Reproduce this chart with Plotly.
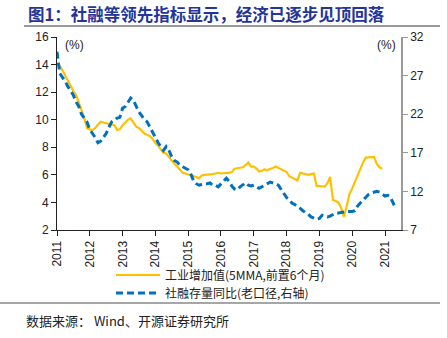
import plotly.graph_objects as go

months_y = [f"{y}-{m:02d}-01" for y in range(2011, 2021) for m in range(1, 13)]
ind_va = [
    14.0, 13.9, 13.6, 13.2, 12.9, 12.5, 12.1, 11.8, 11.3, 10.7, 10.1, 9.4,
    9.3, 9.25, 9.4, 9.6, 9.85, 9.8, 9.75, 9.75, 9.7, 9.6, 9.25, 9.3,
    9.6, 9.8, 10.0, 10.1, 9.8, 9.5, 9.4, 9.2, 9.0, 8.9, 8.8, 8.6,
    8.3, 8.1, 7.9, 7.6, 7.55, 7.3, 7.0, 6.8, 6.6, 6.4, 6.15, 6.1,
    6.05, 6.0, 5.95, 5.85, 5.75, 5.95, 6.0, 6.0, 6.05, 6.05, 6.1, 6.15,
    6.1, 6.15, 6.15, 6.15, 6.2, 6.45, 6.5, 6.5, 6.55, 6.7, 6.9, 6.6,
    6.6, 6.45, 6.25, 6.3, 6.4, 6.35, 6.4, 6.5, 6.6, 6.5, 6.4, 6.35,
    6.2, 5.9, 5.8, 5.7, 5.6, 6.15, 6.1, 6.05, 6.0, 6.05, 6.1, 5.2,
    5.2, 5.2, 5.15, 5.4, 5.85, 4.2, 4.1, 4.0, 3.6, 2.96, 3.7, 4.6,
    5.0, 5.5, 5.9, 6.4, 6.9, 7.25, 7.25, 7.3, 7.3, 6.8, 6.55, 6.45,
]

months_b = [f"{y}-{m:02d}-01" for y in range(2011, 2022) for m in range(1, 13)][:125]
tsf_yoy = [
    30.1, 27.3, 26.8, 26.3, 25.6, 25.0, 24.5, 23.6, 23.0, 22.0, 21.5, 21.0,
    20.0, 19.5, 19.0, 18.3, 18.5, 19.0, 19.5, 20.3, 21.0, 21.2, 21.5, 21.6,
    22.8, 23.0, 23.5, 24.1, 23.8, 23.0, 22.3, 21.8, 21.3, 21.0, 20.3, 19.6,
    18.9, 18.3, 17.8, 17.3, 17.8, 17.3, 16.5, 16.0, 15.8, 15.4, 15.2, 15.0,
    14.8, 14.2, 13.4, 13.0, 12.8, 12.9, 13.0, 13.0, 13.1, 12.8, 12.8, 12.6,
    13.0, 13.3, 13.7, 13.3, 12.7, 12.3, 12.2, 12.6, 12.9, 13.1, 12.8, 12.7,
    12.8, 12.6, 12.4, 12.6, 12.8, 13.0, 13.2, 13.1, 13.0, 12.8, 12.3, 11.8,
    11.2, 10.9, 10.5, 10.3, 10.1, 9.8, 9.5, 9.3, 9.0, 8.7, 8.5, 8.4,
    8.5, 8.9, 8.8, 8.7, 8.8, 9.0, 9.2, 9.2, 9.3, 9.4, 9.4, 9.4,
    9.4, 9.5, 10.1, 10.5, 10.9, 11.3, 11.6, 11.8, 11.9, 12.0, 11.9, 11.6,
    11.4, 11.5, 11.3, 10.5, 9.7,
]

years = list(range(2011, 2022))
year_ticks = [f"{y}-01-01" for y in years]
year_labels = [str(y) for y in years]
left_ticks = [2, 4, 6, 8, 10, 12, 14, 16]
right_ticks = [7, 12, 17, 22, 27, 32]

W, H = 447, 338
L, R, T, B = 57, 401, 37, 230
def px(X):
    return (X - L) / (R - L)
def py(Y):
    return (B - Y) / (B - T)

fig = go.Figure()
fig.add_trace(go.Scatter(
    x=months_y, y=ind_va, mode="lines", name="工业增加值(5MMA,前置6个月)",
    line=dict(color="#FFC000", width=2.2), yaxis="y", legend="legend"))
fig.add_trace(go.Scatter(
    x=months_b, y=tsf_yoy, mode="lines", name="社融存量同比(老口径,右轴)",
    line=dict(color="#0070C0", width=3, dash="7px,4px"), yaxis="y2", legend="legend2"))

tick_font = dict(family="Liberation Sans, Arial", size=12, color="#222")
leg_font = dict(family="Noto Sans CJK SC", size=12, color="#222")

fig.update_layout(
    width=W, height=H,
    margin=dict(l=L, r=W - R, t=T, b=H - B),
    paper_bgcolor="white", plot_bgcolor="white",
    showlegend=True,
    legend=dict(x=px(111), y=py(275), xanchor="left", yanchor="middle",
                font=leg_font, bgcolor="rgba(0,0,0,0)", itemwidth=44),
    legend2=dict(x=px(111), y=py(293), xanchor="left", yanchor="middle",
                 font=leg_font, bgcolor="rgba(0,0,0,0)", itemwidth=44),
    xaxis=dict(type="date", range=["2011-01-01", "2021-06-28"],
               tickvals=year_ticks, ticktext=year_labels, tickangle=-90,
               showgrid=False, zeroline=False, showline=True,
               linecolor="#222", linewidth=1, ticks="outside", ticklen=5,
               tickcolor="#222", tickfont=tick_font),
    yaxis=dict(range=[2, 16], tickvals=left_ticks, showgrid=False, zeroline=False,
               showline=True, linecolor="#222", linewidth=1, ticks="outside",
               ticklen=5, tickcolor="#222", tickfont=tick_font),
    yaxis2=dict(range=[7, 32], tickvals=right_ticks, overlaying="y", side="right",
                showgrid=False, zeroline=False, showline=True, linecolor="#999",
                linewidth=1.5, ticks="outside", ticklen=5, tickcolor="#999",
                tickfont=tick_font),
)

fig.add_annotation(text="图1：社融等领先指标显示，经济已逐步见顶回落", xref="paper", yref="paper",
                   x=px(26), y=py(14), xanchor="left", yanchor="middle", showarrow=False,
                   font=dict(family="Noto Sans CJK SC", size=16.5, color="#23349A", weight="bold"))
fig.add_annotation(text="(%)", xref="paper", yref="paper", x=px(63), y=py(45),
                   xanchor="left", yanchor="middle", showarrow=False, font=tick_font)
fig.add_annotation(text="(%)", xref="paper", yref="paper", x=px(398), y=py(45),
                   xanchor="right", yanchor="middle", showarrow=False, font=tick_font)
fig.add_annotation(text="数据来源： Wind、开源证券研究所", xref="paper", yref="paper",
                   x=px(24), y=py(320), xanchor="left", yanchor="middle", showarrow=False,
                   font=dict(family="Noto Sans CJK SC", size=13, color="#222"))

fig.add_shape(type="line", xref="paper", yref="paper", x0=px(24), x1=px(440),
              y0=py(26), y1=py(26), line=dict(color="#333", width=1))
fig.add_shape(type="line", xref="paper", yref="paper", x0=px(0), x1=px(440),
              y0=py(303), y1=py(303), line=dict(color="#888", width=1.5))

fig.write_html("out.html")
